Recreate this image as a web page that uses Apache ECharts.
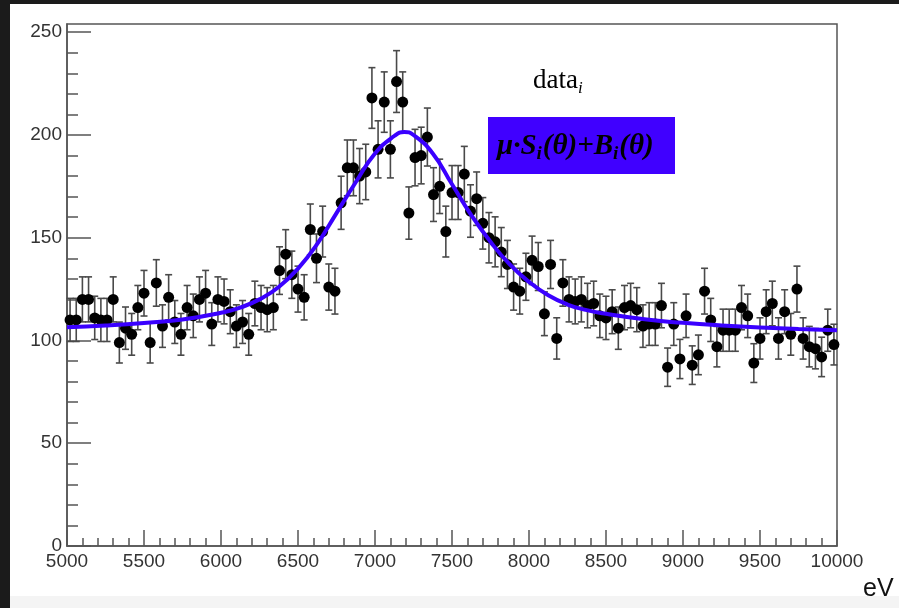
<!DOCTYPE html>
<html>
<head>
<meta charset="utf-8">
<script src="https://cdn.jsdelivr.net/npm/echarts@6/dist/echarts.min.js"></script>
<style>
  html, body { margin: 0; padding: 0; width: 899px; height: 608px; overflow: hidden; background: #1b1b1b; }
  #sheet { position: absolute; left: 10px; top: 4px; width: 889px; height: 604px; background: #ffffff; }
  #foot  { position: absolute; left: 10px; top: 596px; width: 889px; height: 12px; background: #f4f4f4; }
  #chart { position: absolute; left: 0; top: 0; width: 899px; height: 608px; }
</style>
</head>
<body>
<div id="sheet"></div>
<div id="foot"></div>
<div id="chart"></div>
<script>
// Histogram: 125 bins of 40 eV between 5000 and 10000 eV
const binLow = 5000;
const binWidth = 40;
const counts = [
  110, 110, 120, 120, 111, 110, 110, 120,  99, 106,
  103, 116, 123,  99, 128, 107, 121, 109, 103, 116,
  112, 120, 123, 108, 120, 119, 114, 107, 109, 103,
  118, 116, 115, 116, 134, 142, 132, 125, 121, 154,
  140, 153, 126, 124, 167, 184, 184, 180, 182, 218,
  193, 216, 193, 226, 216, 162, 189, 190, 199, 171,
  175, 153, 172, 172, 181, 163, 169, 157, 150, 148,
  143, 137, 126, 124, 131, 139, 136, 113, 137, 101,
  128, 120, 119, 120, 117, 118, 112, 111, 114, 106,
  116, 117, 115, 107, 108, 108, 117,  87, 108,  91,
  112,  88,  93, 124, 110,  97, 105, 105, 105, 116,
  112,  89, 101, 114, 118, 101, 114, 103, 125, 101,
   97,  96,  92, 105,  98
];

// Fitted model  mu*S(theta) + B(theta), sampled along the energy axis
const fitEnergy = [5000, 5250, 5500, 5750, 6000, 6125, 6250, 6375, 6500, 6625,
                   6750, 6875, 7000, 7125, 7190, 7250, 7375, 7500, 7625, 7750,
                   7875, 8000, 8125, 8250, 8375, 8500, 8750, 9000, 9250, 9500,
                   9750, 10000];
const fitValue  = [106.5, 107.3, 108.5, 110.2, 113.5, 116, 120, 126, 135, 147,
                   162, 177, 191, 199.5, 201.5, 200, 191, 176, 161, 148,
                   137, 128.5, 122, 117.5, 114.8, 113, 110.3, 108.6, 107.3, 106.3,
                   105.6, 105];

// Axis ticks
const yMajorTicks = [0, 50, 100, 150, 200, 250];
const yMinorTicks = [10, 20, 30, 40, 60, 70, 80, 90, 110, 120, 130, 140,
                     160, 170, 180, 190, 210, 220, 230, 240];
const xTickLabels = [5000, 5500, 6000, 6500, 7000, 7500, 8000, 8500, 9000, 9500, 10000];

const frameColor = '#555555';
const modelColor = '#3a00ff';
const boxColor = '#4000ff';

const centers = counts.map((_, i) => binLow + binWidth * (i + 0.5));
const points = counts.map((n, i) => [centers[i], n]);
const errors = counts.map((n, i) => [centers[i], n - Math.sqrt(n), n + Math.sqrt(n)]);
const fitLine = fitEnergy.map((e, i) => [e, fitValue[i]]);

// Lay out a run of text pieces (with subscripts) on a common baseline
const measureCtx = document.createElement('canvas').getContext('2d');
function textRuns(runs, x0, baseline) {
  let x = x0;
  const els = [];
  runs.forEach(r => {
    const font = `${r.style || ''} ${r.weight || ''} ${r.size}px "Liberation Serif"`.trim();
    measureCtx.font = font;
    const w = measureCtx.measureText(r.text).width;
    const base = baseline + (r.shift || 0);
    els.push({
      type: 'text', x: x, y: base - 0.305 * r.size, z: 100,
      style: { text: r.text, font: font, fill: '#000', align: 'left', verticalAlign: 'middle' }
    });
    x += w + (r.gap || 0);
  });
  return els;
}

const graphics = [].concat(
  textRuns([
    { text: 'data', size: 27 },
    { text: 'i', size: 17, style: 'italic', shift: 4 }
  ], 533, 89.5),
  [{
    type: 'rect', z: 99,
    shape: { x: 488, y: 117, width: 187, height: 57 },
    style: { fill: boxColor }
  }],
  textRuns([
    { text: 'μ·S', size: 29, style: 'italic', weight: 'bold' },
    { text: 'i', size: 19, style: 'italic', weight: 'bold', shift: 5, gap: 1 },
    { text: '(θ)+B', size: 29, style: 'italic', weight: 'bold' },
    { text: 'i', size: 19, style: 'italic', weight: 'bold', shift: 5, gap: 1 },
    { text: '(θ)', size: 29, style: 'italic', weight: 'bold' }
  ], 497, 155),
  [{
    type: 'text', x: 863, y: 597 - 0.3 * 25, z: 100,
    style: { text: 'eV', font: '25px "Liberation Sans"', fill: '#111', align: 'left', verticalAlign: 'middle' }
  }]
);

const chart = echarts.init(document.getElementById('chart'), null, { renderer: 'canvas' });
const labelFont = { fontFamily: 'Liberation Sans', fontSize: 19, color: '#333' };

chart.setOption({
  backgroundColor: 'transparent',
  animation: false,
  grid: {
    left: 67, right: 62, top: 24, bottom: 62,
    show: true, borderColor: frameColor, borderWidth: 1.5, backgroundColor: 'transparent'
  },
  xAxis: {
    type: 'value', min: 5000, max: 10000, interval: 500,
    axisLine: { show: true, onZero: false, lineStyle: { color: frameColor, width: 1.5 } },
    axisTick: { show: true, inside: true, length: 16, lineStyle: { color: frameColor, width: 1.5 } },
    minorTick: { show: true, splitNumber: 5, length: 8, lineStyle: { color: frameColor, width: 1.5 } },
    axisLabel: Object.assign({ margin: 6, customValues: xTickLabels, formatter: v => String(v) }, labelFont),
    splitLine: { show: false }, minorSplitLine: { show: false }
  },
  yAxis: [
    {
      type: 'value', min: 0, max: 254, position: 'left',
      axisLine: { show: true, onZero: false, lineStyle: { color: frameColor, width: 1.5 } },
      axisTick: { show: true, inside: true, length: 24, customValues: yMajorTicks,
                  lineStyle: { color: frameColor, width: 1.5 } },
      axisLabel: Object.assign({ margin: 5, customValues: yMajorTicks, formatter: v => String(v) }, labelFont),
      splitLine: { show: false }
    },
    {
      type: 'value', min: 0, max: 254, position: 'left', offset: 0,
      axisLine: { show: false },
      axisTick: { show: true, inside: true, length: 11, customValues: yMinorTicks,
                  lineStyle: { color: frameColor, width: 1.5 } },
      axisLabel: { show: false },
      splitLine: { show: false }
    }
  ],
  series: [
    {
      name: 'errors', type: 'custom', z: 2,
      data: errors,
      encode: { x: 0, y: [1, 2] },
      renderItem: (params, api) => {
        const x = api.value(0);
        const top = api.coord([x, api.value(2)]);
        const bot = api.coord([x, api.value(1)]);
        const cap = 3.5;
        const st = { stroke: '#4a4a4a', lineWidth: 1.6 };
        return {
          type: 'group',
          children: [
            { type: 'line', shape: { x1: top[0], y1: top[1], x2: bot[0], y2: bot[1] }, style: st },
            { type: 'line', shape: { x1: top[0] - cap, y1: top[1], x2: top[0] + cap, y2: top[1] }, style: st },
            { type: 'line', shape: { x1: bot[0] - cap, y1: bot[1], x2: bot[0] + cap, y2: bot[1] }, style: st }
          ]
        };
      }
    },
    {
      name: 'data', type: 'scatter', z: 3,
      data: points, symbol: 'circle', symbolSize: 11,
      itemStyle: { color: '#000000', opacity: 1 }
    },
    {
      name: 'model', type: 'line', z: 4,
      data: fitLine, showSymbol: false, smooth: 0.5,
      lineStyle: { color: modelColor, width: 4 }
    }
  ],
  graphic: graphics
});
</script>
</body>
</html>
